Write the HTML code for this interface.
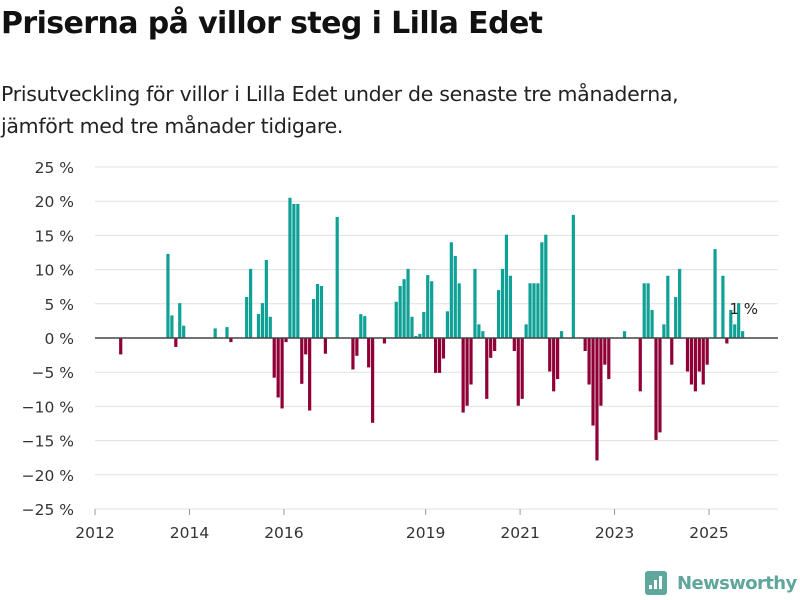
<!DOCTYPE html>
<html><head><meta charset="utf-8"><style>
body{margin:0;background:#fff;font-family:"DejaVu Sans",sans-serif;}
#wrap{position:relative;width:800px;height:600px;overflow:hidden;}
h1{position:absolute;left:1px;top:6px;margin:0;font-size:30px;font-weight:bold;color:#111;letter-spacing:-0.6px;white-space:nowrap;}
p{position:absolute;left:1px;top:78px;margin:0;font-size:20.5px;line-height:32px;color:#222;width:750px;letter-spacing:-0.3px;}
</style></head><body>
<div id="wrap">
<h1>Priserna på villor steg i Lilla Edet</h1>
<p>Prisutveckling för villor i Lilla Edet under de senaste tre månaderna, jämfört med tre månader tidigare.</p>
<svg id="chart" width="800" height="600" style="position:absolute;left:0;top:0"></svg>
</div>
<script>
const values = [
0,0,0,0,0,0,-2.4,0,0,0,0,0,
0,0,0,0,0,0,12.3,3.3,-1.3,5.1,1.8,0,
0,0,0,0,0,0,1.4,0,0,1.6,-0.6,0,
0,0,6.0,10.1,0,3.5,5.1,11.4,3.1,-5.8,-8.7,-10.3,
-0.6,20.5,19.6,19.6,-6.7,-2.4,-10.6,5.7,7.9,7.6,-2.3,0,
0,17.7,0,0,0,-4.6,-2.6,3.5,3.2,-4.3,-12.4,0,
0,-0.8,0,0,5.3,7.6,8.6,10.1,3.1,0.3,0.6,3.8,
9.2,8.3,-5.1,-5.1,-3.0,3.9,14.0,12.0,8.0,-10.9,-9.9,-6.8,
10.1,2.0,1.0,-8.9,-2.9,-1.9,7.0,10.1,15.1,9.1,-1.9,-9.9,
-8.9,2.0,8.0,8.0,8.0,14.0,15.1,-4.9,-7.8,-6.0,1.0,0,
0,18.0,0,0,-1.9,-6.8,-12.8,-17.9,-9.9,-3.9,-6.0,0,
0,0,1.0,0,0,0,-7.8,8.0,8.0,4.1,-14.9,-13.8,
2.0,9.1,-3.9,6.0,10.1,0,-4.9,-6.8,-7.8,-4.9,-6.8,-3.9,
0,13.0,0,9.1,-0.8,4.1,2.0,5.1,1.0
];
const startYear = 2012;
const yTicks = [25,20,15,10,5,0,-5,-10,-15,-20,-25];
const xTickYears = [2012,2014,2016,2019,2021,2023,2025];
const lastLabel = "1 %";

const NS="http://www.w3.org/2000/svg";
const svg=document.getElementById('chart');
const X0=95, X1=778, PXM=3.936, Y0=338, PXP=6.84;
const FF='DejaVu Sans, sans-serif';
const xs=i=>X0+i*PXM;
const ys=v=>Y0-v*PXP;
function el(t,a){const e=document.createElementNS(NS,t);for(const k in a)e.setAttribute(k,a[k]);svg.appendChild(e);return e;}

yTicks.forEach(t=>{
  const g=el('line',{x1:X0,x2:X1,y1:ys(t),y2:ys(t),stroke:'#e0e0e0','stroke-width':1});
  
  
  const tx=el('text',{x:74,y:ys(t)+6,'text-anchor':'end','font-size':15.5,fill:'#333','font-family':FF});
  tx.textContent=(t<0?'\u2212'+(-t):t)+' %';
  
  
});
xTickYears.forEach(yr=>{
  const x=xs((yr-startYear)*12);
  const tk=el('line',{x1:x,x2:x,y1:509,y2:515,stroke:'#999','stroke-width':1});
  
  
  const tx=el('text',{x:x,y:538,'text-anchor':'middle','font-size':15.5,fill:'#333','font-family':FF});
  tx.textContent=yr;
  
  
});
values.forEach((v,i)=>{
  if(!v)return;
  const y=Math.min(ys(v),Y0), h=Math.abs(ys(v)-Y0);
  const r=el('rect',{x:xs(i)+0.5,y:y,width:3.2,height:h,fill:v>0?'#10a196':'#8f0037'});
  
  
});
const zl=el('line',{x1:X0,x2:X1,y1:Y0,y2:Y0,stroke:'#444','stroke-width':1.5});


const li=values.length-1;
const lb=el('text',{x:xs(li)-11,y:ys(values[li])-17,'font-size':15,fill:'#222','font-family':FF});
lb.textContent=lastLabel;



const ic=el('rect',{x:645,y:571,width:22,height:24,rx:3,fill:'#5fa69c'});


[[649,585,4],[654,580,9],[659,576,13]].forEach(b=>{
  const r=el('rect',{x:b[0],y:b[1],width:3,height:b[2],fill:'#fff'});
  
  
});
const lt=el('text',{x:677,y:589,'font-size':18,'font-weight':'bold',fill:'#5fa69c','font-family':FF,'letter-spacing':'-0.6'});
lt.textContent='Newsworthy';


</script>
</body></html>
